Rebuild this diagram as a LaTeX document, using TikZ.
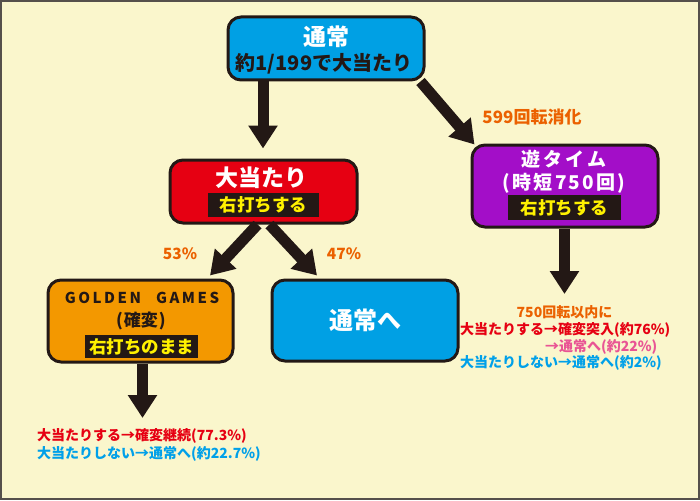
\documentclass[tikz,border=0pt]{standalone}
\usepackage{fontspec}
\setmainfont{Noto Sans CJK JP}
\usetikzlibrary{arrows.meta}
\definecolor{bg}{RGB}{250,246,204}
\definecolor{frame}{RGB}{85,80,75}
\definecolor{ink}{RGB}{35,24,21}
\definecolor{cblue}{RGB}{0,160,228}
\definecolor{cred}{RGB}{230,0,18}
\definecolor{cpurple}{RGB}{163,14,200}
\definecolor{corange}{RGB}{243,152,0}
\definecolor{tor}{RGB}{235,97,0}
\definecolor{tred}{RGB}{230,0,18}
\definecolor{tblue}{RGB}{0,160,233}
\definecolor{tpink}{RGB}{233,84,148}
\definecolor{tyel}{RGB}{255,241,0}
\newcommand\myfs[1]{\fontsize{#1pt}{#1pt}\selectfont\bfseries}
\newcommand\sk{\kern2.3pt}
\begin{document}
\begin{tikzpicture}[x=1pt,y=-1pt,
  box/.style={draw=ink,line width=3pt,rounded corners=13pt,inner sep=0pt},
  lab/.style={fill=ink,inner sep=0pt,text=tyel,font=\myfs{17.5}},
  txt/.style={inner sep=0pt},
  bigarrow/.style={draw=ink,line width=11pt,-{Triangle[width=28pt,length=23pt]}}]
\useasboundingbox (0,0) rectangle (700,500);
\draw[fill=bg,draw=frame,line width=2pt] (1,1) rectangle (699,499);

% boxes
\node[box,fill=cblue,minimum width=196pt,minimum height=63pt] (top) at (326,48.5) {};
\node[box,fill=cred,minimum width=187pt,minimum height=63pt] (hit) at (263.5,191.5) {};
\node[box,fill=cpurple,minimum width=186pt,minimum height=82pt] (yu) at (565,186) {};
\node[box,fill=corange,minimum width=185pt,minimum height=82pt] (gg) at (140.5,321) {};
\node[box,fill=cblue,minimum width=186pt,minimum height=81pt] (back) at (365,320.5) {};

% box texts
\node[txt,text=white,font=\myfs{23}] (t1) at (326,37) {通常};
\node[txt,text=ink,font=\myfs{20}] (t2) at (324,64) {約1/199で大当たり};
\node[txt,text=white,font=\myfs{23}] (h1) at (261,178) {大当たり};
\node[lab,minimum width=111pt,minimum height=24pt] (h2) at (263.5,205) {右打ちする};
\node[txt,text=white,font=\myfs{19}] (y1) at (564,159) {遊\,タ\,イ\,ム};
\node[txt,text=white,font=\myfs{19}] (y2) at (564,183) {(\sk 時\sk 短\sk 7\sk 5\sk 0\sk 回\sk )};
\node[lab,minimum width=113pt,minimum height=25pt] (y3) at (564.5,207.5) {右打ちする};
\node[txt,text=ink,font=\myfs{15}] (g1) at (142,298) {G\,O\,L\,D\,E\,N\quad G\,A\,M\,E\,S};
\node[txt,text=ink,font=\myfs{17}] (g2) at (141,321) {(\kern1pt 確変\kern1pt )};
\node[lab,minimum width=113pt,minimum height=23pt] (g3) at (141.5,346.5) {右打ちのまま};
\node[txt,text=white,font=\myfs{24}] (b1) at (365,320) {通常へ};

% arrows
\coordinate (ggend) at (142.5,418);
\coordinate (yuend) at (564.5,294);
\draw[bigarrow,shorten >=10pt] (263,0 |- top.south) -- (263,0 |- hit.north);
\draw[bigarrow] ([xshift=-5pt]top.south east) -- ([xshift=4pt,yshift=-1pt]yu.north west);
\draw[bigarrow] ([xshift=-6pt]hit.south) -- ([xshift=69.5pt,yshift=3pt]gg.north);
\draw[bigarrow] ([xshift=6pt]hit.south) -- ([xshift=-48pt,yshift=3pt]back.north);
\draw[bigarrow] (142.5,0 |- gg.south) -- (ggend);
\draw[bigarrow] (564.5,0 |- yu.south) -- (yuend);

% labels
\node[txt,text=tor,font=\myfs{17}] (p599) at (532,117.5) {599回転消化};
\node[txt,text=tor,font=\myfs{15.5}] (p53) at (180,254) {53\%};
\node[txt,text=tor,font=\myfs{15.5}] (p47) at (344,254) {47\%};

\node[txt,text=tor,font=\myfs{14}] (r1) at (564.5,312) {750回転以内に};
\node[txt,text=tred,font=\myfs{14},anchor=west] (r2) at (460,330) {大当たりする→確変突入(約76\%)};
\node[txt,text=tpink,font=\myfs{14},anchor=west] (r3) at (545,347) {→通常へ(約22\%)};
\node[txt,text=tblue,font=\myfs{14},anchor=west] (r4) at (460,363) {大当たりしない→通常へ(約2\%)};

\node[txt,text=tred,font=\myfs{14},anchor=west] (l1) at (37,436) {大当たりする→確変継続(77.3\%)};
\node[txt,text=tblue,font=\myfs{14},anchor=west] (l2) at (37,454) {大当たりしない→通常へ(約22.7\%)};
\end{tikzpicture}
\end{document}
